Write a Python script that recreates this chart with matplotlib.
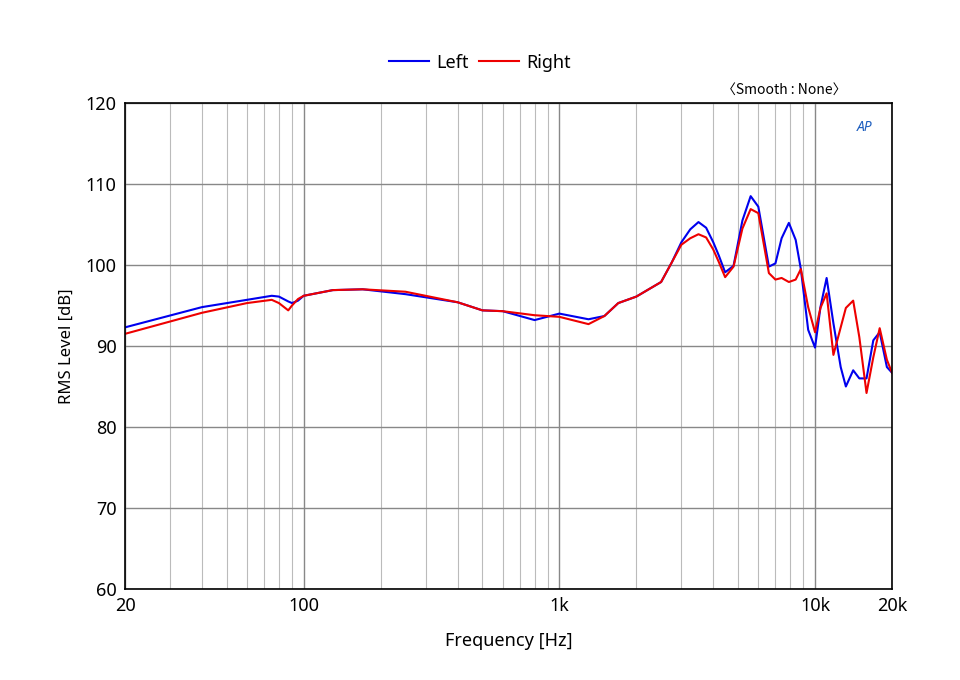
import matplotlib
matplotlib.use("Agg")
import matplotlib.pyplot as plt
from matplotlib.ticker import FixedLocator, NullFormatter

plt.rcParams['font.family'] = ['Noto Sans', 'DejaVu Sans']

freq = [20, 40, 60, 75, 80, 87, 90, 95, 100, 130, 170, 250, 400, 500, 600, 800, 1000, 1300, 1500, 1700, 2000, 2500,
        2750, 3000, 3250, 3500, 3750, 4000, 4200, 4450, 4800, 5200, 5600, 6000, 6600, 7000, 7400, 7900, 8400, 8800, 9400,
        10000, 10500, 11100, 11800, 12600, 13200, 14100, 14900, 15900, 16900, 17900, 19100, 20000]
left = [92.3, 94.8, 95.7, 96.2, 96.1, 95.5, 95.3, 95.6, 96.2, 96.9, 97.0, 96.4, 95.4, 94.4, 94.3, 93.2, 94.0, 93.3, 93.7, 95.3, 96.1, 97.9,
        100.3, 102.8, 104.4, 105.3, 104.6, 102.8, 101.2, 99.1, 99.9, 105.5, 108.5, 107.2, 99.8, 100.2, 103.3, 105.2, 103.1, 99.5, 92.0,
        89.8, 94.8, 98.4, 92.8, 87.4, 85.0, 87.0, 86.0, 86.0, 90.7, 91.7, 87.4, 86.7]
right = [91.5, 94.1, 95.3, 95.7, 95.3, 94.4, 95.0, 95.8, 96.2, 96.9, 97.0, 96.7, 95.4, 94.4, 94.3, 93.8, 93.6, 92.7, 93.7, 95.3, 96.1, 97.9,
         100.3, 102.5, 103.3, 103.8, 103.4, 101.9, 100.4, 98.5, 99.8, 104.5, 106.9, 106.4, 99.0, 98.2, 98.4, 97.9, 98.2, 99.5, 94.8,
         91.7, 94.7, 96.5, 88.9, 92.3, 94.7, 95.6, 91.1, 84.2, 88.6, 92.2, 88.3, 86.7]

fig = plt.figure(figsize=(9.6, 6.8), dpi=100)
ax = fig.add_axes([125/960, 1-589/680, 767/960, 486/680])
ax.semilogx(freq, left, color='#0000ee', lw=1.5, label='Left')
ax.semilogx(freq, right, color='#ee0000', lw=1.5, label='Right')
ax.set_xlim(20, 20000)
ax.set_ylim(60, 120)
ax.xaxis.set_major_locator(FixedLocator([20, 100, 1000, 10000, 20000]))
ax.set_xticklabels(['20', '100', '1k', '10k', '20k'])
minors = [m * d for d in (10, 100, 1000, 10000) for m in range(2, 10) if 20 <= m * d <= 20000]
ax.xaxis.set_minor_locator(FixedLocator(minors))
ax.xaxis.set_minor_formatter(NullFormatter())
ax.set_yticks(range(60, 121, 10))
ax.grid(which='major', color='#888888', lw=1)
ax.grid(which='minor', axis='x', color='#bbbbbb', lw=0.8)
ax.tick_params(which='both', length=0, labelsize=13, pad=6)
for s in ax.spines.values():
    s.set_color('black'); s.set_linewidth(1.2)
ax.set_xlabel('Frequency [Hz]', fontsize=13, labelpad=12)
ax.set_ylabel('RMS Level [dB]', fontsize=12, labelpad=8)
fig.legend(loc='upper center', bbox_to_anchor=(0.5, 0.945), ncol=2, frameon=False, fontsize=13,
           handlelength=2.2, columnspacing=0.6, handletextpad=0.4)
fig.text(846/960, 1-90/680, '〈Smooth : None〉', ha='right', va='center', fontsize=10,
         family=['Noto Sans CJK SC', 'DejaVu Sans'])
ax.text(0.975, 0.965, 'AP', transform=ax.transAxes, ha='right', va='top', fontsize=10,
        color='#1f5fbf', style='italic', fontweight='bold')
fig.savefig('out.png', dpi=100)
